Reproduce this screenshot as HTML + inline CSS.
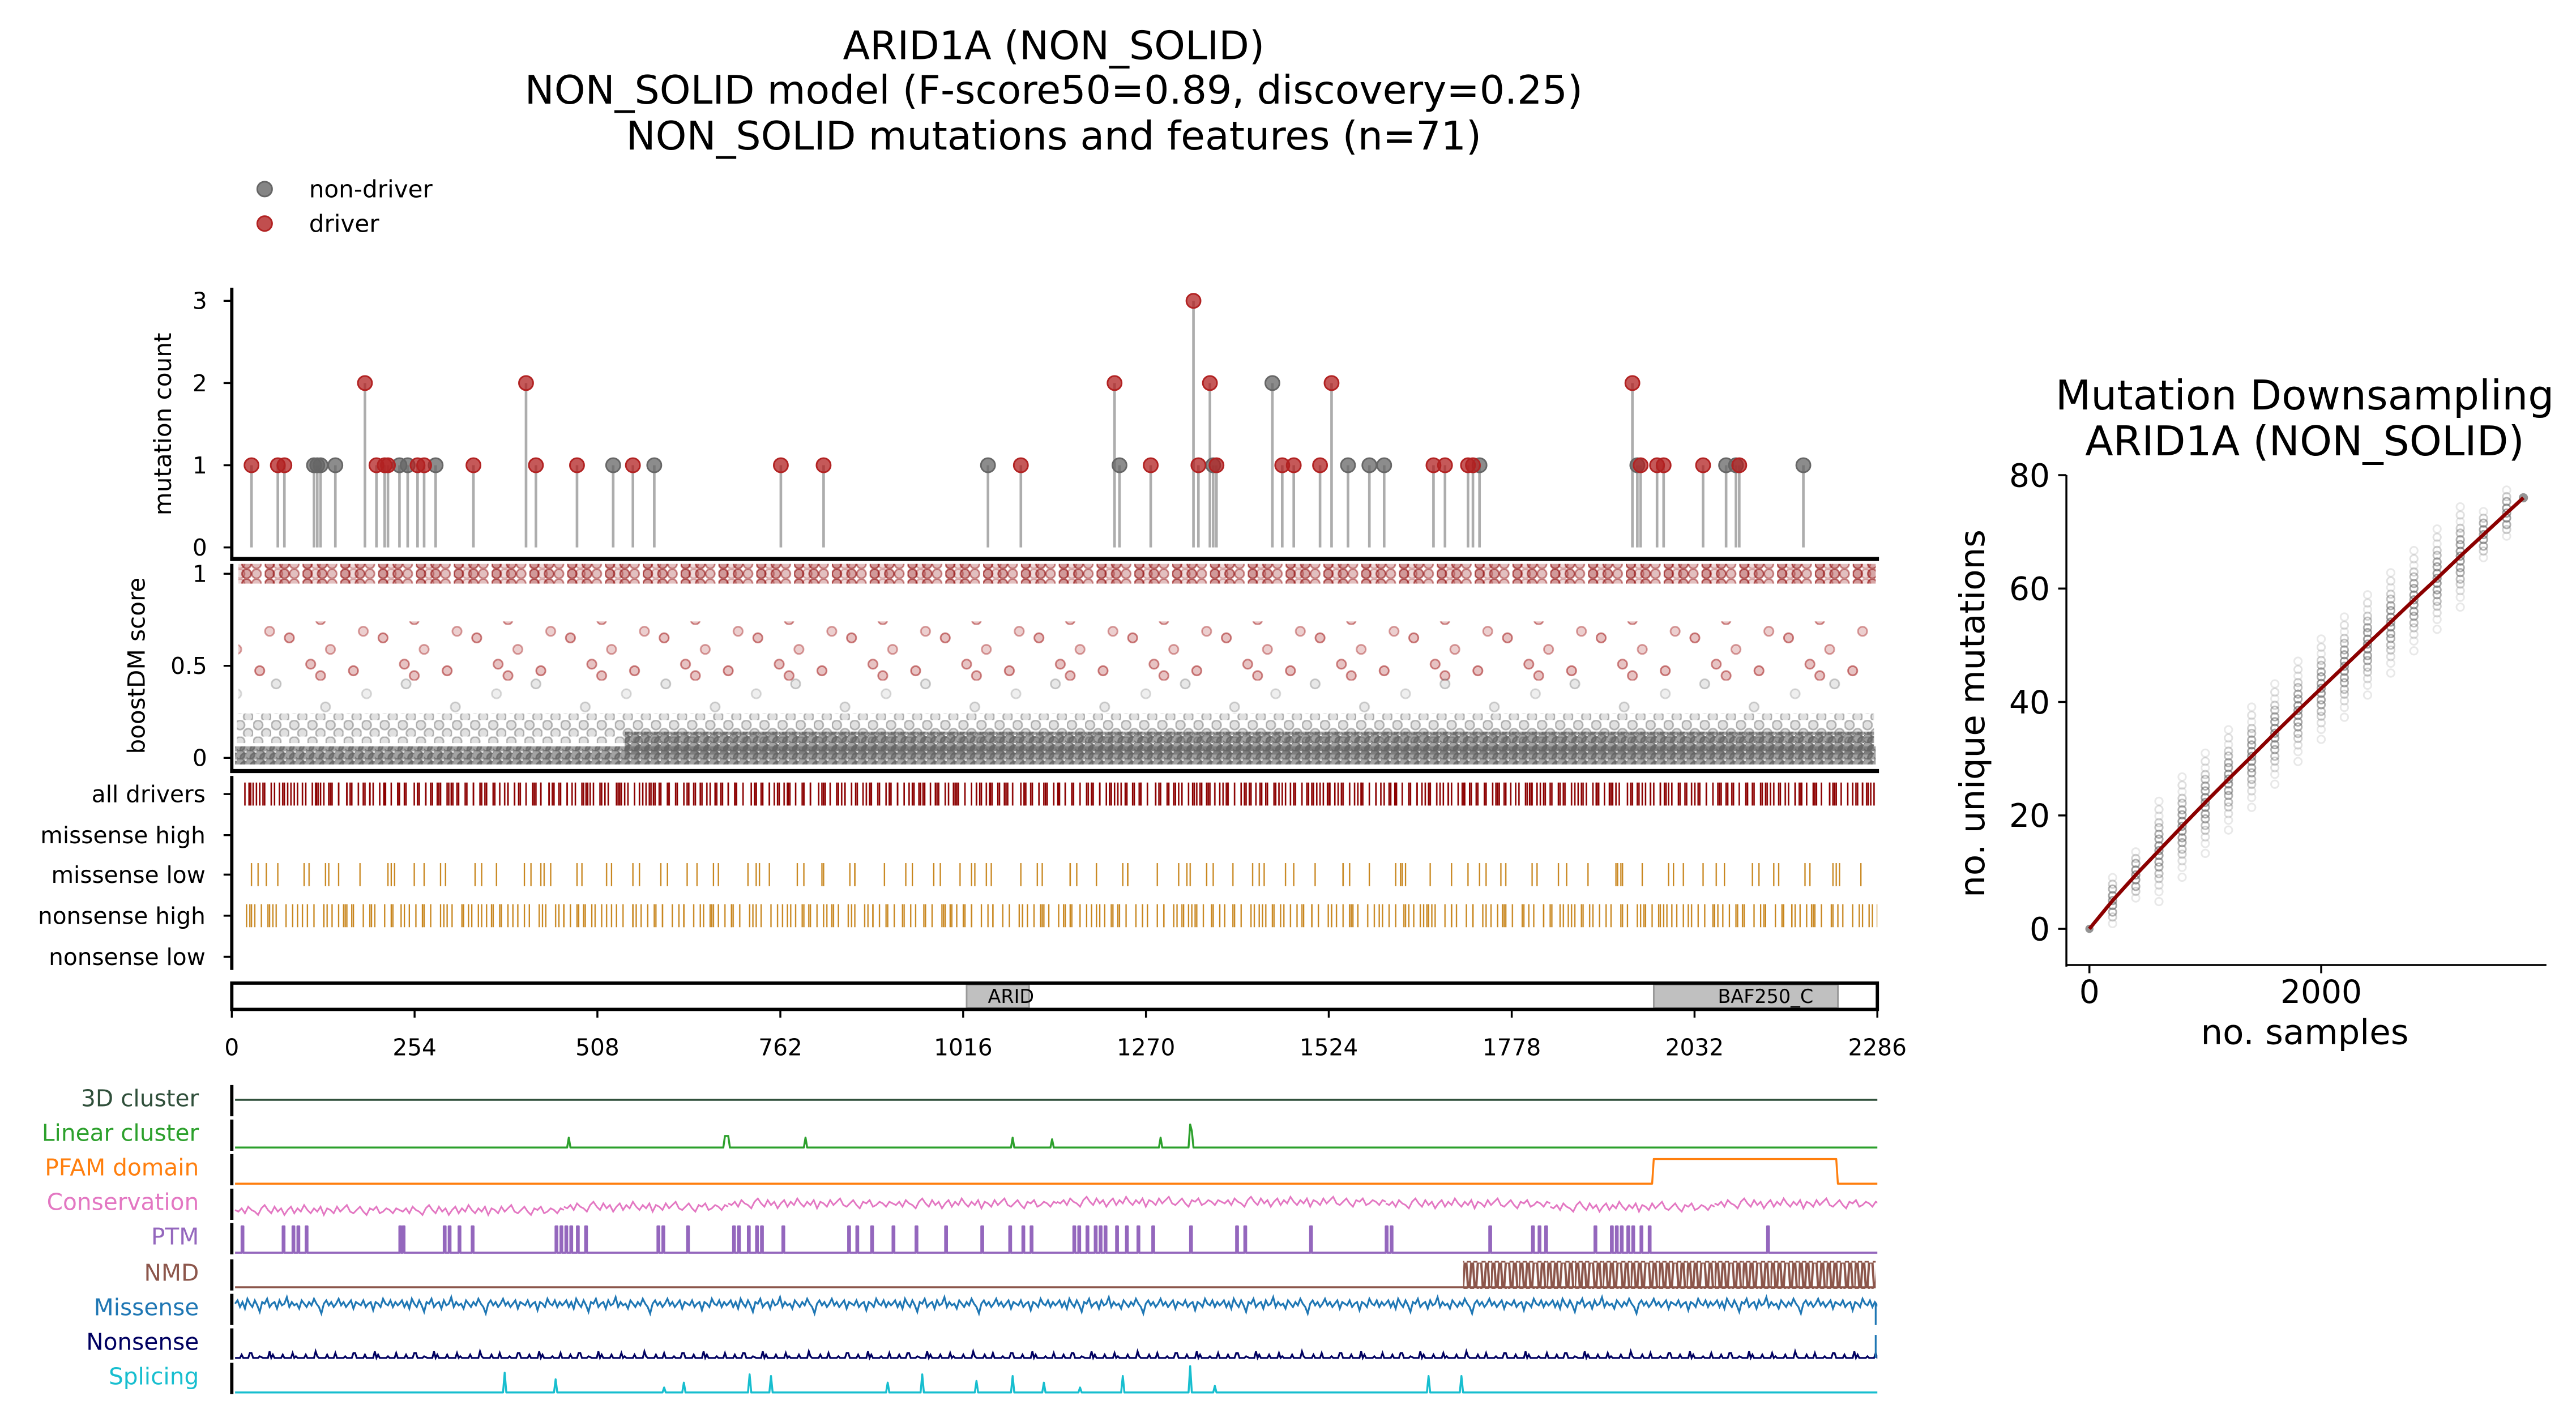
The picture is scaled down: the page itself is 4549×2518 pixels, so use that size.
<!DOCTYPE html>
<html><head><meta charset="utf-8"><style>html,body{margin:0;padding:0;background:#fff}svg{display:block}text{font-family:"DejaVu Sans","Liberation Sans",sans-serif}</style></head>
<body>
<svg xmlns="http://www.w3.org/2000/svg" xmlns:xlink="http://www.w3.org/1999/xlink" width="4549" height="2518" viewBox="0 0 1567 867.4" preserveAspectRatio="none">
<defs>
<pattern id="g0" patternUnits="userSpaceOnUse" x="0" y="452" width="6" height="5"><circle cx="2" cy="2" r="2.8" fill="#666" fill-opacity=".6" stroke="#666" stroke-opacity=".8"/><circle cx="5" cy="4" r="2.8" fill="#666" fill-opacity=".6" stroke="#666" stroke-opacity=".8"/></pattern>
<pattern id="g1" patternUnits="userSpaceOnUse" x="0" y="438" width="11" height="10"><circle cx="3" cy="3" r="2.8" fill="#666" fill-opacity=".2" stroke="#666" stroke-opacity=".45"/><circle cx="8" cy="8" r="2.8" fill="#666" fill-opacity=".2" stroke="#666" stroke-opacity=".45"/></pattern>
<pattern id="g2" patternUnits="userSpaceOnUse" x="0" y="410" width="79" height="30"><circle cx="10" cy="6" r="2.8" fill="#666" fill-opacity=".15" stroke="#666" stroke-opacity=".35"/><circle cx="40" cy="20" r="2.8" fill="#666" fill-opacity=".15" stroke="#666" stroke-opacity=".3"/><circle cx="65" cy="12" r="2.8" fill="#666" fill-opacity=".1" stroke="#666" stroke-opacity=".25"/></pattern>
<pattern id="r1" patternUnits="userSpaceOnUse" x="0" y="346" width="23" height="6"><circle cx="3" cy="3" r="2.8" fill="#8b0000" fill-opacity=".4" stroke="#8b0000" stroke-opacity=".6"/><circle cx="8" cy="3" r="2.8" fill="#8b0000" fill-opacity=".15" stroke="#8b0000" stroke-opacity=".3"/><circle cx="12" cy="3" r="2.8" fill="#8b0000" fill-opacity=".35" stroke="#8b0000" stroke-opacity=".55"/><circle cx="18" cy="3" r="2.8" fill="#8b0000" fill-opacity=".25" stroke="#8b0000" stroke-opacity=".45"/></pattern>
<pattern id="rm" patternUnits="userSpaceOnUse" x="0" y="380" width="57" height="34"><circle cx="5" cy="8" r="2.8" fill="#a01010" fill-opacity=".25" stroke="#a01010" stroke-opacity=".55"/><circle cx="18" cy="24" r="2.8" fill="#a01010" fill-opacity=".25" stroke="#a01010" stroke-opacity=".5"/><circle cx="30" cy="15" r="2.8" fill="#a01010" fill-opacity=".2" stroke="#a01010" stroke-opacity=".4"/><circle cx="44" cy="28" r="2.8" fill="#a01010" fill-opacity=".25" stroke="#a01010" stroke-opacity=".55"/><circle cx="50" cy="4" r="2.8" fill="#a01010" fill-opacity=".2" stroke="#a01010" stroke-opacity=".4"/><circle cx="24" cy="31" r="2.8" fill="#a01010" fill-opacity=".25" stroke="#a01010" stroke-opacity=".5"/></pattern>
<pattern id="d1" patternUnits="userSpaceOnUse" x="148" y="0" width="41" height="20"><path d="M1 0V20M3.5 0V20M4.5 0V20M8 0V20M12 0V20M13 0V20M17 0V20M22 0V20M24 0V20M25 0V20M29 0V20M33 0V20M36 0V20M38 0V20" stroke="#8b0000" stroke-width=".9"/></pattern>
<pattern id="d2" patternUnits="userSpaceOnUse" x="148" y="0" width="67" height="20"><path d="M6 0V20M10 0V20M19 0V20M27 0V20M31 0V20M44 0V20M47 0V20M52 0V20M58 0V20M63 0V20" stroke="#8b0000" stroke-width=".9"/></pattern>
<pattern id="m1" patternUnits="userSpaceOnUse" x="148" y="0" width="83" height="20"><path d="M5 0V20M9 0V20M21 0V20M37 0V20M40 0V20M58 0V20M71 0V20" stroke="#c8861e" stroke-width=".8"/></pattern>
<pattern id="m2" patternUnits="userSpaceOnUse" x="148" y="0" width="131" height="20"><path d="M14 0V20M50 0V20M52 0V20M90 0V20M110 0V20" stroke="#c8861e" stroke-width=".8"/></pattern>
<pattern id="n1" patternUnits="userSpaceOnUse" x="148" y="0" width="47" height="20"><path d="M2 0V20M4 0V20M7 0V20M11 0V20M15 0V20M16 0V20M20 0V20M26 0V20M30 0V20M33 0V20M39 0V20M43 0V20" stroke="#c8861e" stroke-width=".8"/></pattern>
<pattern id="n2" patternUnits="userSpaceOnUse" x="148" y="0" width="73" height="20"><path d="M5 0V20M18 0V20M36 0V20M49 0V20M61 0V20M66 0V20" stroke="#c8861e" stroke-width=".8"/></pattern>
<pattern id="nmd" patternUnits="userSpaceOnUse" x="890" y="768" width="17" height="15"><path d="M0 15L1 0H2L3 15H4L5 0H6L7 15H8L9 0H11L12 15H13L14 0H15L16 15H17" fill="none" stroke="#8c564b" stroke-width="1.4"/></pattern>
<clipPath id="cl"><rect x="142" y="600" width="1000" height="259"/></clipPath>
<polyline id="cons" fill="none" stroke="#e377c2" stroke-width="1" points="0,0 2,1 4,-1 6,2 8,-2 10,0 12,1 14,3 16,-1 18,-3 20,0 22,2 24,-2 26,1 28,-1 30,3 32,0 34,-2 36,2 38,-1 40,1 42,-3 44,0 46,2 48,-1 50,1 52,-2 54,3 56,-1 58,0 60,2 62,-2 64,1 66,-1 68,-3 70,1 72,2 74,0 76,-2 78,1 80,3 82,-1 84,0 86,-2 88,2 90,1 92,-1 94,0 96,2 98,-1 100,0"/>
<polyline id="mis" fill="none" stroke="#1f77b4" stroke-width="1.1" points="0,0 1.5,-2 3,2 4.5,-1 6,3 7.5,-3 9,0 10.5,2 12,-2 13.5,1 15,5 16.5,-1 18,0 19.5,-3 21,2 22.5,0 24,-1 25.5,3 27,-2 28.5,1 30,0 31.5,-4 33,2 34.5,-1 36,1 37.5,0 39,3 40.5,-2 42,0 43.5,2 45,-1 46.5,1 48,-3 49.5,0 51,2 52.5,6 54,0 55.5,-2 57,1 58.5,-1 60,2 61.5,0 63,-3 64.5,1 66,-1 67.5,2 69,0 70.5,-2 72,3 73.5,-1 75,0 76.5,1 78,-2 79.5,2 81,0 82.5,-1 84,4 85.5,-1 87,0 88.5,2 90,-3 91.5,0 93,1 94.5,-2 96,2 97.5,-1 99,1 100,0"/>
<polyline id="non" fill="none" stroke="#000060" stroke-width="1.1" points="0,0 3,0 4,-2 5,0 8,0 9,-3 10,-3 11,0 14,0 15,-1 17,0 20,0 21,-4 22,0 23,-2 24,0 28,0 29,-2 30,0 34,0 35,-3 36,0 37,-1 38,0 42,0 43,-2 44,0 48,0 49,-4 50,-1 51,0 55,0 56,-2 57,0 60,0 61,-3 62,0 66,0 67,-1 68,0 71,0 72,-3 73,-3 74,0 78,0 79,-2 80,0 84,0 85,-4 86,0 87,-2 88,0 92,0 93,-1 94,0 97,0 98,-3 99,0 100,0"/>
<g id="colw"><circle cy="-30" r="2.3"/><circle cy="-25" r="2.3" stroke-opacity=".2"/><circle cy="-21" r="2.3"/><circle cy="-17" r="2.3" stroke-opacity=".3"/><circle cy="-14" r="2.3" stroke-opacity=".4"/><circle cy="-10" r="2.3" stroke-opacity=".5"/><circle cy="-7" r="2.3" stroke-opacity=".55"/><circle cy="-3" r="2.3" stroke-opacity=".6"/><circle cy="0" r="2.3" stroke-opacity=".6"/><circle cy="3" r="2.3" stroke-opacity=".6"/><circle cy="7" r="2.3" stroke-opacity=".55"/><circle cy="10" r="2.3" stroke-opacity=".5"/><circle cy="14" r="2.3" stroke-opacity=".4"/><circle cy="17" r="2.3" stroke-opacity=".3"/><circle cy="21" r="2.3" stroke-opacity=".2"/><circle cy="25" r="2.3"/><circle cy="31" r="2.3"/></g>
<g id="coln"><circle cy="-14" r="2.3"/><circle cy="-10" r="2.3" stroke-opacity=".3"/><circle cy="-7" r="2.3" stroke-opacity=".5"/><circle cy="-3" r="2.3" stroke-opacity=".6"/><circle cy="0" r="2.3" stroke-opacity=".6"/><circle cy="3" r="2.3" stroke-opacity=".6"/><circle cy="7" r="2.3" stroke-opacity=".5"/><circle cy="10" r="2.3" stroke-opacity=".3"/><circle cy="14" r="2.3"/></g>
</defs>
<rect width="1567" height="867.4" fill="#fff"/>
<g font-size="24" text-anchor="middle" fill="#000">
<text x="641" y="36">ARID1A (NON_SOLID)</text>
<text x="641" y="63">NON_SOLID model (F-score50=0.89, discovery=0.25)</text>
<text x="641" y="91">NON_SOLID mutations and features (n=71)</text>
</g>
<circle cx="161" cy="115" r="4.5" fill="#666" fill-opacity=".8" stroke="#666"/>
<circle cx="161" cy="136" r="4.5" fill="#b22222" fill-opacity=".8" stroke="#b22222"/>
<text x="188" y="120" font-size="14.5">non-driver</text>
<text x="188" y="141" font-size="14.5">driver</text>

<g stroke="#999" stroke-width="1.6" stroke-opacity=".8">
<path d="M153 333V283M169 333V283M173 333V283M191 333V283M193 333V283M195 333V283M204 333V283M222 333V233M229 333V283M234 333V283M236 333V283M243 333V283M248 333V283M254 333V283M258 333V283M265 333V283M288 333V283M320 333V233M326 333V283M351 333V283M373 333V283M385 333V283M398 333V283M475 333V283M501 333V283M601 333V283M621 333V283M678 333V233M681 333V283M700 333V283M726 333V183M729 333V283M736 333V233M738 333V283M740 333V283M774 333V233M780 333V283M787 333V283M803 333V283M810 333V233M820 333V283M833 333V283M842 333V283M872 333V283M879 333V283M893 333V283M896 333V283M900 333V283M993 333V233M996 333V283M998 333V283M1008 333V283M1012 333V283M1036 333V283M1050 333V283M1056 333V283M1058 333V283M1097 333V283"/>
</g>
<g fill="#666" fill-opacity=".75" stroke="#666">
<circle cx="191" cy="283" r="4.3"/><circle cx="193" cy="283" r="4.3"/><circle cx="195" cy="283" r="4.3"/><circle cx="204" cy="283" r="4.3"/><circle cx="243" cy="283" r="4.3"/><circle cx="248" cy="283" r="4.3"/><circle cx="265" cy="283" r="4.3"/><circle cx="373" cy="283" r="4.3"/><circle cx="398" cy="283" r="4.3"/><circle cx="601" cy="283" r="4.3"/><circle cx="681" cy="283" r="4.3"/><circle cx="738" cy="283" r="4.3"/><circle cx="774" cy="233" r="4.3"/><circle cx="820" cy="283" r="4.3"/><circle cx="833" cy="283" r="4.3"/><circle cx="842" cy="283" r="4.3"/><circle cx="900" cy="283" r="4.3"/><circle cx="996" cy="283" r="4.3"/><circle cx="1050" cy="283" r="4.3"/><circle cx="1056" cy="283" r="4.3"/><circle cx="1097" cy="283" r="4.3"/>
</g>
<g fill="#b22222" fill-opacity=".75" stroke="#b22222">
<circle cx="153" cy="283" r="4.3"/><circle cx="169" cy="283" r="4.3"/><circle cx="173" cy="283" r="4.3"/><circle cx="222" cy="233" r="4.3"/><circle cx="229" cy="283" r="4.3"/><circle cx="234" cy="283" r="4.3"/><circle cx="236" cy="283" r="4.3"/><circle cx="254" cy="283" r="4.3"/><circle cx="258" cy="283" r="4.3"/><circle cx="288" cy="283" r="4.3"/><circle cx="320" cy="233" r="4.3"/><circle cx="326" cy="283" r="4.3"/><circle cx="351" cy="283" r="4.3"/><circle cx="385" cy="283" r="4.3"/><circle cx="475" cy="283" r="4.3"/><circle cx="501" cy="283" r="4.3"/><circle cx="621" cy="283" r="4.3"/><circle cx="678" cy="233" r="4.3"/><circle cx="700" cy="283" r="4.3"/><circle cx="726" cy="183" r="4.3"/><circle cx="729" cy="283" r="4.3"/><circle cx="736" cy="233" r="4.3"/><circle cx="740" cy="283" r="4.3"/><circle cx="780" cy="283" r="4.3"/><circle cx="787" cy="283" r="4.3"/><circle cx="803" cy="283" r="4.3"/><circle cx="810" cy="233" r="4.3"/><circle cx="872" cy="283" r="4.3"/><circle cx="879" cy="283" r="4.3"/><circle cx="893" cy="283" r="4.3"/><circle cx="896" cy="283" r="4.3"/><circle cx="993" cy="233" r="4.3"/><circle cx="998" cy="283" r="4.3"/><circle cx="1008" cy="283" r="4.3"/><circle cx="1012" cy="283" r="4.3"/><circle cx="1036" cy="283" r="4.3"/><circle cx="1058" cy="283" r="4.3"/>
</g>

<rect x="145" y="343" width="996" height="12" fill="url(#r1)"/>
<rect x="145" y="378" width="994" height="36" fill="url(#rm)"/>
<rect x="145" y="408" width="994" height="32" fill="url(#g2)"/>
<rect x="144" y="434" width="996" height="18" fill="url(#g1)"/>
<rect x="380" y="445" width="760" height="14" fill="url(#g0)"/>
<rect x="143" y="454" width="998" height="11" fill="url(#g0)"/>

<rect x="148" y="476" width="994" height="14" fill="url(#d1)"/>
<rect x="148" y="476" width="994" height="14" fill="url(#d2)"/>
<rect x="148" y="525" width="986" height="14" fill="url(#m1)"/>
<rect x="148" y="525" width="986" height="14" fill="url(#m2)"/>
<rect x="148" y="550" width="994" height="14" fill="url(#n1)"/>
<rect x="148" y="550" width="994" height="14" fill="url(#n2)"/>

<g stroke="#000" fill="none">
<line x1="141" y1="175" x2="141" y2="341" stroke-width="2"/>
<line x1="140" y1="340" x2="1143" y2="340" stroke-width="2.5"/>
<line x1="141" y1="343" x2="141" y2="470" stroke-width="2"/>
<line x1="140" y1="469" x2="1143" y2="469" stroke-width="2.5"/>
<line x1="141" y1="472" x2="141" y2="590" stroke-width="2"/>
</g>
<rect x="588" y="599" width="38" height="14" fill="#c0c0c0" stroke="#999"/>
<text x="615" y="610" font-size="11.5" text-anchor="middle">ARID</text>
<rect x="1006" y="599" width="112" height="14" fill="#c0c0c0" stroke="#999"/>
<text x="1074" y="610" font-size="11.5" text-anchor="middle">BAF250_C</text>
<rect x="141" y="598" width="1001" height="16" fill="none" stroke="#000" stroke-width="2"/>

<g font-size="14" text-anchor="end">
<text x="126" y="188">3</text><text x="126" y="238">2</text><text x="126" y="288">1</text><text x="126" y="338">0</text>
<text x="126" y="354">1</text><text x="126" y="410">0.5</text><text x="126" y="466">0</text>
<text x="125" y="488">all drivers</text><text x="125" y="513">missense high</text><text x="125" y="537">missense low</text><text x="125" y="562">nonsense high</text><text x="125" y="587">nonsense low</text>
<text x="121" y="673" fill="#2f4f3a">3D cluster</text>
<text x="121" y="694" fill="#2ca02c">Linear cluster</text>
<text x="121" y="715" fill="#ff7f0e">PFAM domain</text>
<text x="121" y="736" fill="#e377c2">Conservation</text>
<text x="121" y="757" fill="#9467bd">PTM</text>
<text x="121" y="779" fill="#8c564b">NMD</text>
<text x="121" y="800" fill="#1f77b4">Missense</text>
<text x="121" y="821" fill="#000060">Nonsense</text>
<text x="121" y="842" fill="#17becf">Splicing</text>
</g>
<g stroke="#000" stroke-width="1.2">
<path d="M136 183H141M136 233H141M136 283H141M136 333H141M136 349H141M136 405H141M136 461H141M136 483H141M136 508H141M136 532H141M136 557H141M136 582H141"/>
<path d="M141 614V619M252.2 614V619M363.4 614V619M474.7 614V619M585.9 614V619M697.1 614V619M808.3 614V619M919.6 614V619M1030.8 614V619M1142 614V619"/>
</g>
<g font-size="14" text-anchor="middle">
<text x="141" y="642">0</text><text x="252.2" y="642">254</text><text x="363.4" y="642">508</text><text x="474.7" y="642">762</text><text x="585.9" y="642">1016</text><text x="697.1" y="642">1270</text><text x="808.3" y="642">1524</text><text x="919.6" y="642">1778</text><text x="1030.8" y="642">2032</text><text x="1142" y="642">2286</text>
</g>
<text transform="translate(104,258) rotate(-90)" font-size="14.5" text-anchor="middle">mutation count</text>
<text transform="translate(88,405) rotate(-90)" font-size="14.5" text-anchor="middle">boostDM score</text>

<g stroke="#000" stroke-width="2">
<path d="M141 660V679M141 681V700M141 702V721M141 723V742M141 744V763M141 766V785M141 787V806M141 808V827M141 829V848"/>
</g>
<g fill="none" stroke-width="1.2" stroke-linejoin="round">
<path d="M143 669H1142" stroke="#2f4f3a"/>
<path d="M143 698H345L346 692L347 698H440L441 691L443 691L444 698H489L490 692L491 698H615L616 692L617 698H639L640 693L641 698H705L706 692L707 698H723L724 684L725 688L726 698H1142" stroke="#2ca02c"/>
<path d="M143 720H1005L1006 705H1117L1118 720H1142" stroke="#ff7f0e"/>
<path d="M143 762H147V746H148V762H172V746H173V762H178V746H179V762H181V746H182V762H186V746H187V762H243V746H244V762H245V746H246V762H270V746H271V762H273V746H274V762H279V746H280V762H287V746H288V762H338V746H339V762H341V746H342V762H344V746H345V762H347V746H348V762H351V746H352V762H356V746H357V762H400V746H401V762H403V746H404V762H418V746H419V762H446V746H447V762H449V746H450V762H455V746H456V762H460V746H461V762H463V746H464V762H476V746H477V762H516V746H517V762H521V746H522V762H530V746H531V762H543V746H544V762H557V746H558V762H575V746H576V762H597V746H598V762H614V746H615V762H622V746H623V762H627V746H628V762H653V746H654V762H656V746H657V762H661V746H662V762H666V746H667V762H669V746H670V762H672V746H673V762H679V746H680V762H685V746H686V762H692V746H693V762H701V746H702V762H724V746H725V762H752V746H753V762H757V746H758V762H797V746H798V762H843V746H844V762H846V746H847V762H906V746H907V762H932V746H933V762H936V746H937V762H940V746H941V762H970V746H971V762H980V746H981V762H983V746H984V762H986V746H987V762H990V746H991V762H993V746H994V762H998V746H999V762H1003V746H1004V762H1075V746H1076V762H1142" stroke="#9467bd" stroke-width="1.3"/>
<path d="M143 783H1141" stroke="#8c564b"/>
<path d="M143 847H306L307 835L308 847H337L338 839L339 847H403L404 844L405 847H415L416 841L417 847H455L456 836L457 847H468L469 837L470 847H539L540 841L541 847H560L561 836L562 847H593L594 840L595 847H615L616 837L617 847H634L635 841L636 847H656L657 844L658 847H682L683 837L684 847H723L724 831L725 847H738L739 843L740 847H868L869 837L870 847H888L889 837L890 847H1142" stroke="#17becf"/>
</g>
<rect x="890" y="767" width="251" height="17" fill="url(#nmd)"/>
<g clip-path="url(#cl)">
<use xlink:href="#cons" href="#cons" transform="translate(143,736)"/><use xlink:href="#cons" href="#cons" transform="translate(243,736)"/><use xlink:href="#cons" href="#cons" transform="translate(343,734)"/><use xlink:href="#cons" href="#cons" transform="translate(443,732)"/><use xlink:href="#cons" href="#cons" transform="translate(543,732)"/><use xlink:href="#cons" href="#cons" transform="translate(643,731)"/><use xlink:href="#cons" href="#cons" transform="translate(743,731)"/><use xlink:href="#cons" href="#cons" transform="translate(843,732)"/><use xlink:href="#cons" href="#cons" transform="translate(943,734)"/><use xlink:href="#cons" href="#cons" transform="translate(1043,732)"/>
<use xlink:href="#mis" href="#mis" transform="translate(143,793)"/><use xlink:href="#mis" href="#mis" transform="translate(243,793)"/><use xlink:href="#mis" href="#mis" transform="translate(343,793)"/><use xlink:href="#mis" href="#mis" transform="translate(443,793)"/><use xlink:href="#mis" href="#mis" transform="translate(543,793)"/><use xlink:href="#mis" href="#mis" transform="translate(643,793)"/><use xlink:href="#mis" href="#mis" transform="translate(743,793)"/><use xlink:href="#mis" href="#mis" transform="translate(843,793)"/><use xlink:href="#mis" href="#mis" transform="translate(943,793)"/><use xlink:href="#mis" href="#mis" transform="translate(1043,793)"/>
<use xlink:href="#non" href="#non" transform="translate(143,826)"/><use xlink:href="#non" href="#non" transform="translate(243,826)"/><use xlink:href="#non" href="#non" transform="translate(343,826)"/><use xlink:href="#non" href="#non" transform="translate(443,826)"/><use xlink:href="#non" href="#non" transform="translate(543,826)"/><use xlink:href="#non" href="#non" transform="translate(643,826)"/><use xlink:href="#non" href="#non" transform="translate(743,826)"/><use xlink:href="#non" href="#non" transform="translate(843,826)"/><use xlink:href="#non" href="#non" transform="translate(943,826)"/><use xlink:href="#non" href="#non" transform="translate(1043,826)"/>
</g>
<path d="M1141 793V806M1141 826V812" stroke-width="1.1" fill="none" stroke="#1f77b4"/>

<g font-size="25" text-anchor="middle">
<text x="1402" y="249">Mutation Downsampling</text>
<text x="1402" y="277">ARID1A (NON_SOLID)</text>
</g>
<g fill="none" stroke="#666" stroke-opacity=".15" stroke-width="1">
<use xlink:href="#coln" href="#coln" transform="translate(1285.1,547.8)"/>
<use xlink:href="#coln" href="#coln" transform="translate(1299.2,532.2)"/>
<use xlink:href="#colw" href="#colw" transform="translate(1313.3,517.4)"/>
<use xlink:href="#colw" href="#colw" transform="translate(1327.4,502.6)"/>
<use xlink:href="#colw" href="#colw" transform="translate(1341.5,488.1)"/>
<use xlink:href="#colw" href="#colw" transform="translate(1355.6,473.9)"/>
<use xlink:href="#colw" href="#colw" transform="translate(1369.7,460.1)"/>
<use xlink:href="#colw" href="#colw" transform="translate(1383.8,446)"/>
<use xlink:href="#colw" href="#colw" transform="translate(1397.9,432.2)"/>
<use xlink:href="#colw" href="#colw" transform="translate(1412,418.7)"/>
<use xlink:href="#colw" href="#colw" transform="translate(1426.1,405.3)"/>
<use xlink:href="#colw" href="#colw" transform="translate(1440.2,391.8)"/>
<use xlink:href="#colw" href="#colw" transform="translate(1454.3,378.4)"/>
<use xlink:href="#colw" href="#colw" transform="translate(1468.4,364.9)"/>
<use xlink:href="#colw" href="#colw" transform="translate(1482.5,351.8)"/>
<use xlink:href="#colw" href="#colw" transform="translate(1496.6,338.3)"/>
<use xlink:href="#coln" href="#coln" transform="translate(1510.7,325.2)"/>
<use xlink:href="#coln" href="#coln" transform="translate(1524.8,312.1)"/>
</g>
<circle cx="1271" cy="565" r="2.5" fill="#666" fill-opacity=".7"/>
<circle cx="1535" cy="302.8" r="2.8" fill="#666" fill-opacity=".7"/>
<polyline fill="none" stroke="#8b0000" stroke-width="2.2" points="1271,565 1285.1,547.8 1299.2,532.2 1313.3,517.4 1327.4,502.6 1341.5,488.1 1355.6,473.9 1369.7,460.1 1383.8,446 1397.9,432.2 1412,418.7 1426.1,405.3 1440.2,391.8 1454.3,378.4 1468.4,364.9 1482.5,351.8 1496.6,338.3 1510.7,325.2 1524.8,312.1 1535,302.8"/>
<g stroke="#000" stroke-width="1.2" fill="none">
<path d="M1257 289V588M1257 587H1549M1252 289H1257M1252 358H1257M1252 427H1257M1252 496H1257M1252 565H1257M1271 587V592M1412 587V592"/>
</g>
<g font-size="19.5" text-anchor="end">
<text x="1247" y="296">80</text><text x="1247" y="365">60</text><text x="1247" y="434">40</text><text x="1247" y="503">20</text><text x="1247" y="572">0</text>
</g>
<g font-size="19.5" text-anchor="middle">
<text x="1271" y="610">0</text><text x="1412" y="610">2000</text>
</g>
<g font-size="21" text-anchor="middle">
<text x="1402" y="635">no. samples</text>
<text transform="translate(1207,434) rotate(-90)">no. unique mutations</text>
</g>
</svg>
</body></html>
